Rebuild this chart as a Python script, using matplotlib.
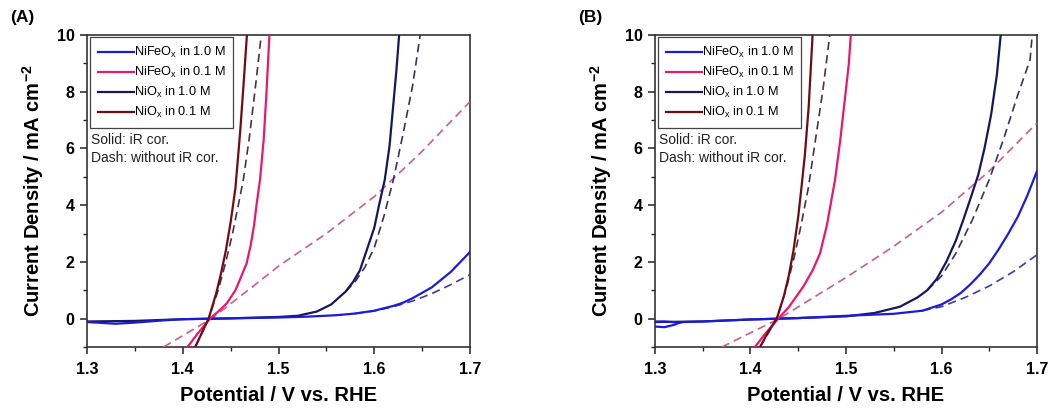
"""Two-panel LSV plot: NiFeOx / NiOx in 1.0 M and 0.1 M, with and without iR correction."""
import matplotlib.pyplot as plt
from matplotlib.lines import Line2D
from matplotlib.ticker import MultipleLocator

plt.rcParams["font.family"] = ["Liberation Sans", "DejaVu Sans"]
plt.rcParams["mathtext.fontset"] = "custom"
plt.rcParams["mathtext.rm"] = "Liberation Sans"
plt.rcParams["mathtext.it"] = "Liberation Sans"
plt.rcParams["mathtext.bf"] = "Liberation Sans:bold"

# ---------------------------------------------------------------------------
# Panel (A) – potential (V vs RHE) / current density (mA cm^-2)
# ---------------------------------------------------------------------------
a_nifeo_1m_v = [1.30, 1.315, 1.33, 1.35, 1.38, 1.40, 1.45, 1.50, 1.53, 1.56, 1.58,
                1.60, 1.62, 1.63, 1.64, 1.66, 1.68, 1.70]
a_nifeo_1m_j = [-0.12, -0.15, -0.18, -0.14, -0.06, -0.02, 0.01, 0.04, 0.07, 0.12, 0.18,
                 0.28, 0.45, 0.56, 0.72, 1.1, 1.65, 2.35]
a_nifeo_1m_dash_v = [1.58, 1.60, 1.62, 1.63, 1.64, 1.66, 1.68, 1.70]
a_nifeo_1m_dash_j = [0.18, 0.27, 0.42, 0.52, 0.62, 0.88, 1.2, 1.55]

a_nifeo_01m_v = [1.405, 1.415, 1.4285, 1.437, 1.446, 1.455, 1.46, 1.4667, 1.471, 1.4745,
                 1.477, 1.4807, 1.4845, 1.4875, 1.4905]
a_nifeo_01m_j = [-1.0, -0.55, 0.0, 0.25, 0.54, 1.0, 1.4, 1.95, 2.6, 3.3,
                 4.0, 4.9, 6.3, 8.0, 10.0]
a_nifeo_01m_dash_v = [1.38, 1.43, 1.47, 1.50, 1.55, 1.60, 1.65, 1.70]
a_nifeo_01m_dash_j = [-1.0, 0.0, 1.05, 1.85, 3.0, 4.3, 5.9, 7.65]

a_nio_1m_v = [1.30, 1.35, 1.40, 1.45, 1.50, 1.52, 1.54, 1.555, 1.57, 1.578, 1.585,
              1.592, 1.60, 1.605, 1.611, 1.616, 1.623, 1.626]
a_nio_1m_j = [-0.1, -0.08, -0.02, 0.01, 0.06, 0.1, 0.25, 0.5, 0.95, 1.3, 1.7,
              2.4, 3.2, 4.0, 4.9, 6.1, 8.7, 10.0]
a_nio_1m_dash_v = [1.57, 1.58, 1.59, 1.60, 1.61, 1.62, 1.63, 1.64, 1.648]
a_nio_1m_dash_j = [0.95, 1.3, 1.8, 2.5, 3.6, 4.9, 6.5, 8.2, 10.0]

a_nio_01m_v = [1.413, 1.42, 1.427, 1.435, 1.44, 1.445, 1.45, 1.455, 1.46, 1.464, 1.467]
a_nio_01m_j = [-1.0, -0.5, 0.0, 0.9, 1.6, 2.4, 3.4, 4.6, 6.6, 8.5, 10.0]
a_nio_01m_dash_v = [1.413, 1.427, 1.437, 1.445, 1.452, 1.458, 1.4633, 1.47, 1.476, 1.482]
a_nio_01m_dash_j = [-1.0, 0.0, 1.0, 2.0, 3.0, 4.0, 4.9, 6.5, 8.2, 10.0]

# ---------------------------------------------------------------------------
# Panel (B)
# ---------------------------------------------------------------------------
b_nifeo_1m_v = [1.30, 1.31, 1.32, 1.325, 1.33, 1.35, 1.40, 1.45, 1.50, 1.55, 1.58,
                1.60, 1.61, 1.62, 1.63, 1.64, 1.65, 1.66, 1.67, 1.68, 1.69, 1.70]
b_nifeo_1m_j = [-0.28, -0.3, -0.22, -0.15, -0.12, -0.1, -0.03, 0.02, 0.1, 0.17, 0.28,
                 0.5, 0.68, 0.9, 1.2, 1.55, 1.95, 2.45, 3.0, 3.6, 4.35, 5.2]
b_nifeo_1m_loop_v = [1.30, 1.31, 1.325]
b_nifeo_1m_loop_j = [-0.1, -0.1, -0.14]
b_nifeo_1m_dash_v = [1.58, 1.60, 1.625, 1.65, 1.675, 1.70]
b_nifeo_1m_dash_j = [0.28, 0.42, 0.75, 1.15, 1.65, 2.25]

b_nifeo_01m_v = [1.4047, 1.415, 1.429, 1.44, 1.4553, 1.465, 1.4728, 1.48, 1.4885,
                 1.494, 1.499, 1.503, 1.505]
b_nifeo_01m_j = [-1.0, -0.55, 0.0, 0.4, 1.13, 1.7, 2.3, 3.3, 4.89, 6.3, 7.8, 9.0, 10.0]
b_nifeo_01m_dash_v = [1.37, 1.43, 1.50, 1.55, 1.60, 1.65, 1.70]
b_nifeo_01m_dash_j = [-1.0, 0.0, 1.45, 2.55, 3.75, 5.2, 6.9]

b_nio_1m_v = [1.30, 1.35, 1.40, 1.45, 1.50, 1.53, 1.5565, 1.575, 1.585, 1.595, 1.605,
              1.615, 1.6228, 1.63, 1.6385, 1.645, 1.652, 1.658, 1.662]
b_nio_1m_j = [-0.12, -0.1, -0.03, 0.02, 0.08, 0.2, 0.42, 0.75, 1.0, 1.4, 2.0,
              2.75, 3.48, 4.2, 5.07, 6.0, 7.2, 8.6, 10.0]
b_nio_1m_dash_v = [1.585, 1.60, 1.615, 1.6323, 1.65, 1.6647, 1.68, 1.6927, 1.695]
b_nio_1m_dash_j = [1.0, 1.5, 2.3, 3.48, 4.9, 6.3, 7.9, 9.12, 10.0]

b_nio_01m_v = [1.41, 1.418, 1.4275, 1.435, 1.44, 1.445, 1.45, 1.4536, 1.457, 1.461, 1.465]
b_nio_01m_j = [-1.0, -0.5, 0.0, 0.8, 1.5, 2.4, 3.6, 4.7, 5.8, 7.5, 10.0]
b_nio_01m_dash_v = [1.41, 1.4275, 1.437, 1.446, 1.453, 1.4605, 1.468, 1.476, 1.483]
b_nio_01m_dash_j = [-1.0, 0.0, 1.0, 2.2, 3.3, 4.6, 6.3, 8.1, 10.0]

LABELS = ["NiFeO$_{x}$ in 1.0 M", "NiFeO$_{x}$ in 0.1 M",
          "NiO$_{x}$ in 1.0 M", "NiO$_{x}$ in 0.1 M"]

C_BLUE = "#1c1cd8"
C_PINK = "#e8186e"
C_NAVY = "#17175e"
C_DRED = "#6e0c16"

DASH_COLORS = {"blue": "#3c3ca8", "pink": "#c4608c", "navy": "#34345e", "dred": "#4e3236"}
DASH = (0, (5, 3))


def draw_panel(ax, curves, tag, loop=None):
    """curves: list of (v, j, color, dashed) drawn in order."""
    for v, j, color, dashed in curves:
        if dashed:
            ax.plot(v, j, color=color, lw=1.2, linestyle=DASH, zorder=3)
        else:
            ax.plot(v, j, color=color, lw=1.6, zorder=4)
    if loop is not None:
        ax.plot(loop[0], loop[1], color=C_BLUE, lw=1.6, zorder=4)

    ax.set_xlim(1.3, 1.7)
    ax.set_ylim(-1, 10)
    ax.xaxis.set_major_locator(MultipleLocator(0.1))
    ax.xaxis.set_minor_locator(MultipleLocator(0.05))
    ax.yaxis.set_major_locator(MultipleLocator(2))
    ax.yaxis.set_minor_locator(MultipleLocator(1))
    ax.tick_params(which="major", direction="out", length=5, width=1.1,
                   labelsize=11.5, pad=4, colors="#222222")
    ax.tick_params(axis="x", which="major", pad=6)
    ax.tick_params(which="minor", direction="out", length=3, width=1.0, colors="#222222")
    for lbl in ax.get_xticklabels() + ax.get_yticklabels():
        lbl.set_fontweight("bold")
        lbl.set_color("black")
    for sp in ax.spines.values():
        sp.set_linewidth(1.2)
        sp.set_color("#333333")

    ax.set_xlabel("Potential / V vs. RHE", fontsize=14.5, fontweight="bold")
    ax.set_ylabel("Current Density / mA cm$^{\\mathbf{-2}}$", fontsize=14.5,
                  fontweight="bold")
    ax.xaxis.set_label_coords(0.5, -0.125)
    ax.yaxis.set_label_coords(-0.108, 0.5)

    handles = [Line2D([], [], color=c, lw=1.6) for c in (C_BLUE, C_PINK, C_NAVY, C_DRED)]
    leg = ax.legend(handles, LABELS, loc="upper left", bbox_to_anchor=(0.008, 0.992),
                    borderaxespad=0, fontsize=9.2, handlelength=2.8, handletextpad=0.05,
                    labelspacing=0.38, borderpad=0.6, fancybox=False, framealpha=1)
    leg.get_frame().set_edgecolor("#444444")
    leg.get_frame().set_linewidth(0.9)

    ax.text(0.01, 0.665, "Solid: iR cor.", transform=ax.transAxes, fontsize=10,
            va="center", ha="left", color="#222222")
    ax.text(0.01, 0.605, "Dash: without iR cor.", transform=ax.transAxes, fontsize=10,
            va="center", ha="left", color="#222222")
    ax.text(-0.2, 1.055, tag, transform=ax.transAxes, fontsize=12.5, fontweight="bold",
            va="center", ha="left")


fig = plt.figure(figsize=(10.58, 4.09), dpi=100)
ax_a = fig.add_axes([87 / 1058, 62 / 409, 383 / 1058, 312 / 409])
ax_b = fig.add_axes([655 / 1058, 62 / 409, 382 / 1058, 312 / 409])

draw_panel(ax_a, [
    (a_nifeo_1m_dash_v, a_nifeo_1m_dash_j, DASH_COLORS["blue"], True),
    (a_nifeo_01m_dash_v, a_nifeo_01m_dash_j, DASH_COLORS["pink"], True),
    (a_nio_1m_dash_v, a_nio_1m_dash_j, DASH_COLORS["navy"], True),
    (a_nio_01m_dash_v, a_nio_01m_dash_j, DASH_COLORS["dred"], True),
    (a_nio_1m_v, a_nio_1m_j, C_NAVY, False),
    (a_nifeo_1m_v, a_nifeo_1m_j, C_BLUE, False),
    (a_nifeo_01m_v, a_nifeo_01m_j, C_PINK, False),
    (a_nio_01m_v, a_nio_01m_j, C_DRED, False),
], "(A)")

draw_panel(ax_b, [
    (b_nifeo_1m_dash_v, b_nifeo_1m_dash_j, DASH_COLORS["blue"], True),
    (b_nifeo_01m_dash_v, b_nifeo_01m_dash_j, DASH_COLORS["pink"], True),
    (b_nio_1m_dash_v, b_nio_1m_dash_j, DASH_COLORS["navy"], True),
    (b_nio_01m_dash_v, b_nio_01m_dash_j, DASH_COLORS["dred"], True),
    (b_nio_1m_v, b_nio_1m_j, C_NAVY, False),
    (b_nifeo_1m_v, b_nifeo_1m_j, C_BLUE, False),
    (b_nifeo_01m_v, b_nifeo_01m_j, C_PINK, False),
    (b_nio_01m_v, b_nio_01m_j, C_DRED, False),
], "(B)", loop=(b_nifeo_1m_loop_v, b_nifeo_1m_loop_j))

fig.savefig("out.png", dpi=100)
